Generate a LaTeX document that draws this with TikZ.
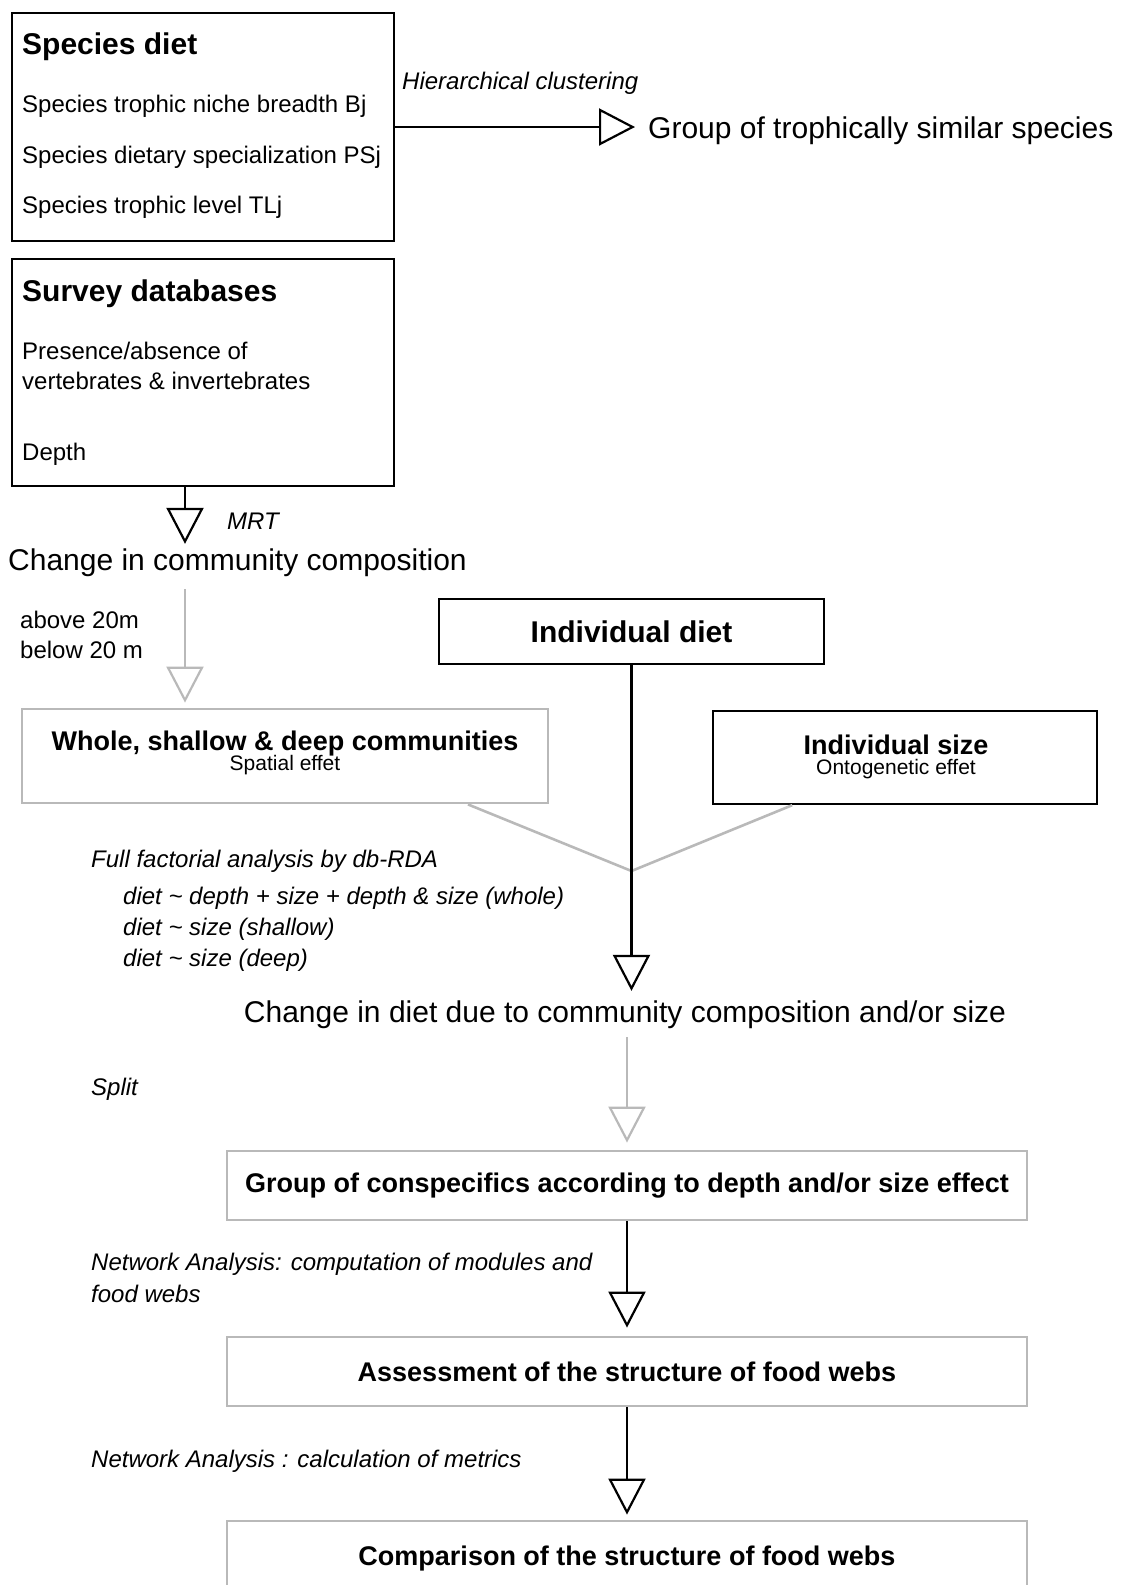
\documentclass[tikz,border=0pt]{standalone}
\usepackage{fontspec}
\setmainfont{Liberation Sans}
\usetikzlibrary{arrows.meta, positioning, calc}
\definecolor{boxgrey}{RGB}{185,185,185}

\begin{document}
\begin{tikzpicture}[
  x=1pt, y=-1pt,
  every node/.style={inner sep=0pt},
  blackbox/.style={rectangle, draw=black, line width=2.4pt},
  greybox/.style={rectangle, draw=boxgrey, line width=2.8pt},
  heading/.style={font=\fontsize{30}{34}\selectfont\bfseries},
  boxtitle/.style={font=\fontsize{27}{31}\selectfont\bfseries},
  plain/.style={font=\fontsize{24}{28}\selectfont},
  big/.style={font=\fontsize{30}{34}\selectfont},
  small/.style={font=\fontsize{21}{24}\selectfont},
  method/.style={font=\fontsize{24}{28}\selectfont\itshape},
  flow/.style={draw=black, line width=2.2pt, -{Triangle[open, length=36pt, width=37pt]}},
  greyflow/.style={flow, draw=boxgrey},
  greyline/.style={draw=boxgrey, line width=2.6pt}
]
\useasboundingbox (0,0) rectangle (1126,1585);

% species diet
\node[blackbox, minimum width=382, minimum height=228] (sdiet) at (203,127) {};
\node[heading, anchor=west] (sdietT) at (22,47) {Species diet};
\node[plain, anchor=west] (bj) at (22,106) {Species trophic niche breadth Bj};
\node[plain, anchor=west] (psj) at (22,157) {Species dietary specialization PSj};
\node[plain, anchor=west] (tlj) at (22,207) {Species trophic level TLj};

\node[method, anchor=west] (hclust) at (402,83) {Hierarchical clustering};
\node[big, anchor=west] (trophgrp) at (648,131) {Group of trophically similar species};
\draw[flow, shorten >=13pt] (sdiet.east) -- (sdiet.east -| trophgrp.west);

% survey databases
\node[blackbox, minimum width=382, minimum height=227] (survey) at (203,372.5) {};
\node[heading, anchor=west] (surveyT) at (22,294) {Survey databases};
\node[plain, anchor=west] (presabs) at (22,351) {Presence/absence of};
\node[plain, anchor=west] (vertinv) at (22,381) {vertebrates \& invertebrates};
\node[plain, anchor=west] (depth) at (22,454) {Depth};

\node[big, anchor=west] (commchg) at (8,563) {Change in community composition};
\coordinate (mrtx) at (185,0);
\draw[flow, shorten >=5pt] (survey.south -| mrtx) -- (commchg.north -| mrtx);
\node[method, anchor=west] (mrt) at (227,521) {MRT};

\node[plain, anchor=west] (above) at (20,620) {above 20m};
\node[plain, anchor=west] (below) at (20,650) {below 20 m};

% communities and individuals
\node[greybox, minimum width=526, minimum height=94] (whole) at (285,756) {};
\node[boxtitle] (wholeT) at (285,744) {Whole, shallow \& deep communities};
\node[small] (spatial) at (285,765) {Spatial effet};
\draw[greyflow, shorten <=12pt, shorten >=5pt] (commchg.south -| mrtx) -- (whole.north -| mrtx);

\node[blackbox, heading, minimum width=385, minimum height=65] (inddiet) at (631.5,631.5) {Individual diet};

\node[blackbox, minimum width=384, minimum height=93] (indsize) at (905,757.5) {};
\node[boxtitle] (indsizeT) at (896,745) {Individual size};
\node[small] (onto) at (896,769) {Ontogenetic effet};

\node[big] (dietchg) at (625,1015) {Change in diet due to community composition and/or size};
\coordinate (join) at (631.5,871);
\draw[greyline] ($(whole.south west)!0.846!(whole.south east)$) -- (join)
  -- ($(indsize.south west)!0.208!(indsize.south east)$);
\draw[flow, shorten >=10pt] (inddiet.south) -- (dietchg.north -| inddiet.south);

\node[method, anchor=west] (dbrda) at (91,861) {Full factorial analysis by db-RDA};
\node[method, anchor=west] (mod1) at (123,898) {diet \textasciitilde{} depth + size + depth \& size (whole)};
\node[method, anchor=west] (mod2) at (123,929) {diet \textasciitilde{} size (shallow)};
\node[method, anchor=west] (mod3) at (123,960) {diet \textasciitilde{} size (deep)};

% food webs
\node[greybox, boxtitle, minimum width=800, minimum height=69] (grp) at (627,1185.5) {Group of conspecifics according to depth and/or size effect};
\node[greybox, boxtitle, minimum width=800, minimum height=69] (assess) at (627,1371.5) {Assessment of the structure of food webs};
\node[greybox, boxtitle, minimum width=800, minimum height=74] (compar) at (627,1558) {Comparison of the structure of food webs};

\draw[greyflow, shorten <=8pt, shorten >=7pt] (dietchg.south -| grp.north) -- (grp.north);
\draw[flow, shorten >=8pt] (grp.south) -- (assess.north);
\draw[flow, shorten >=5pt] (assess.south) -- (compar.north);

\node[method, anchor=west] (split) at (91,1089) {Split};
\node[method, anchor=west] (net1) at (91,1264) {Network Analysis: computation of modules and};
\node[method, anchor=west] (net2) at (91,1294) {food webs};
\node[method, anchor=west] (net3) at (91,1461) {Network Analysis : calculation of metrics};
\end{tikzpicture}
\end{document}
